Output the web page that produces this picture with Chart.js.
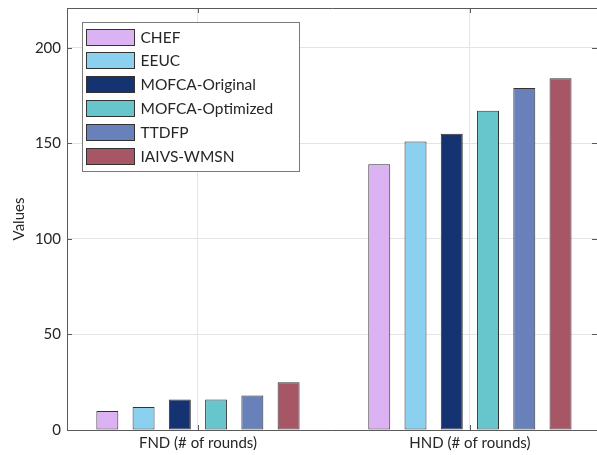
<!DOCTYPE html>
<html>
<head>
<meta charset="utf-8">
<script src="https://cdn.jsdelivr.net/npm/chart.js@4.4.1/dist/chart.umd.min.js"></script>
<style>
  html, body { margin: 0; padding: 0; background: #fff; }
</style>
</head>
<body>
<canvas id="chart" width="597" height="455"></canvas>
<script>
// data
const categories = ['FND (# of rounds)', 'HND (# of rounds)'];
const methods = ['CHEF', 'EEUC', 'MOFCA-Original', 'MOFCA-Optimized', 'TTDFP', 'IAIVS-WMSN'];
const chefValues = [10, 139];
const eeucValues = [12, 151];
const mofcaOriginalValues = [16, 155];
const mofcaOptimizedValues = [16, 167];
const ttdfpValues = [18, 179];
const iaivsValues = [25, 184];
const yTicks = [0, 50, 100, 150, 200];
const yMax = 220.8;

const seriesValues = [chefValues, eeucValues, mofcaOriginalValues, mofcaOptimizedValues, ttdfpValues, iaivsValues];
const colors = ['#dbb3f2', '#8bd1ef', '#153370', '#67c5cc', '#6981ba', '#a75665'];

const FONT = 'Lato, "Noto Sans", sans-serif';
const TEXT = '#262626';
const AXIS = '#5a5a5a';

// box, inward ticks and the boxed legend (matlab style)
const framePlugin = {
    id: 'frame',
    afterDatasetsDraw(chart) {
        const ctx = chart.ctx;
        const a = chart.chartArea;
        const x = chart.scales.x;
        const y = chart.scales.y;
        ctx.save();
        ctx.strokeStyle = AXIS;
        ctx.lineWidth = 1;
        ctx.beginPath();
        ctx.moveTo(a.left + 0.5, a.top + 0.5);
        ctx.lineTo(a.right + 0.5, a.top + 0.5);
        ctx.moveTo(a.left + 0.5, a.top);
        ctx.lineTo(a.left + 0.5, a.bottom + 0.5);
        ctx.lineTo(a.right, a.bottom + 0.5);
        yTicks.forEach(v => {
            const py = Math.round(y.getPixelForValue(v)) + 0.5;
            ctx.moveTo(a.left, py); ctx.lineTo(a.left + 5, py);
            ctx.moveTo(a.right - 5, py); ctx.lineTo(a.right, py);
        });
        categories.forEach((c, i) => {
            const px = Math.round(x.getPixelForValue(i)) + 0.5;
            ctx.moveTo(px, a.bottom); ctx.lineTo(px, a.bottom - 5);
            ctx.moveTo(px, a.top); ctx.lineTo(px, a.top + 5);
        });
        ctx.stroke();

        // legend
        const lx = a.left + 15.5, ly = a.top + 14.5, lw = 217, lh = 149;
        ctx.fillStyle = '#fff';
        ctx.fillRect(lx, ly, lw, lh);
        ctx.strokeStyle = '#7a7a7a';
        ctx.strokeRect(lx, ly, lw, lh);
        ctx.font = '15.5px ' + FONT;
        ctx.textBaseline = 'middle';
        chart.data.datasets.forEach((ds, i) => {
            const top = Math.round(ly + 6 + i * 23.8) + 0.5;
            ctx.fillStyle = ds.backgroundColor;
            ctx.fillRect(lx + 4, top, 48, 16);
            ctx.strokeStyle = '#333';
            ctx.strokeRect(lx + 4, top, 48, 16);
            ctx.fillStyle = TEXT;
            ctx.fillText(ds.label, lx + 58, top + 8.5);
        });
        ctx.restore();
    }
};

new Chart(document.getElementById('chart'), {
    type: 'bar',
    data: {
        labels: categories,
        datasets: methods.map((m, i) => ({
            label: m,
            data: seriesValues[i],
            backgroundColor: colors[i],
            borderColor: '#333',
            borderWidth: 1,
            borderSkipped: false,
            categoryPercentage: 0.8,
            barPercentage: 0.606
        }))
    },
    options: {
        responsive: false,
        animation: false,
        layout: { padding: { top: 8, left: 0, right: 0, bottom: 0 } },
        plugins: { legend: { display: false }, tooltip: { enabled: false } },
        scales: {
            x: {
                grid: { color: '#e4e4e4', offset: false, drawTicks: false },
                border: { display: false },
                ticks: { color: TEXT, font: { family: FONT, size: 15 }, padding: 4 },
                afterFit: s => { s.height = 25; s.paddingLeft = 0; s.paddingRight = 0; },
                // category centres are not symmetric in the reference
                afterBuildTicks: s => { s._startValue = -0.4816; s._valueRange = 1.949; }
            },
            y: {
                min: 0,
                max: yMax,
                afterBuildTicks: s => { s.ticks = yTicks.map(v => ({ value: v })); },
                grid: { color: '#e4e4e4', drawTicks: false },
                border: { display: false },
                ticks: { color: TEXT, font: { family: FONT, size: 15 }, padding: 6 },
                title: { display: true, text: 'Values', color: TEXT, font: { family: FONT, size: 15 }, padding: { top: 10, bottom: 0 } },
                afterFit: s => { s.width = 67; s.paddingTop = 0; s.paddingBottom = 0; }
            }
        }
    },
    plugins: [framePlugin]
});
</script>
</body>
</html>
